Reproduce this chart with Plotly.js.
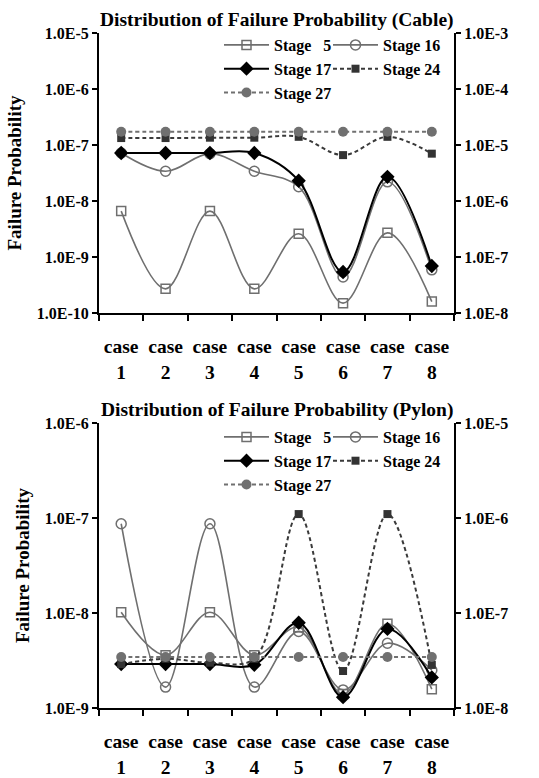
<!DOCTYPE html>
<html><head><meta charset="utf-8">
<script src="https://cdn.plot.ly/plotly-3.0.1.min.js"></script>
<style>html,body{margin:0;padding:0;background:#fff}</style>
</head><body><div id="chart" style="width:539px;height:778px"></div>
<script>
// ---- data ----
const categories = ['case 1','case 2','case 3','case 4','case 5','case 6','case 7','case 8'];
const caseLabels = ['case<br>1','case<br>2','case<br>3','case<br>4','case<br>5','case<br>6','case<br>7','case<br>8'];
const stageNames = ['Stage \u00a0\u00a05','Stage 16','Stage 17','Stage 24','Stage 27'];

const cableStage5  = [6.6e-9, 2.7e-10, 6.6e-9, 2.7e-10, 2.6e-9, 1.5e-10, 2.7e-9, 1.6e-10];
const cableStage16 = [7.2e-8, 3.4e-8, 7.0e-8, 3.4e-8, 1.8e-8, 4.4e-10, 2.2e-8, 5.9e-10];
const cableStage17 = [7.2e-8, 7.2e-8, 7.2e-8, 7.2e-8, 2.3e-8, 5.4e-10, 2.7e-8, 6.9e-10];
const cableStage24 = [1.33e-7, 1.33e-7, 1.35e-7, 1.35e-7, 1.4e-7, 6.6e-8, 1.4e-7, 7.0e-8];
const cableStage27 = [1.72e-7, 1.72e-7, 1.72e-7, 1.72e-7, 1.72e-7, 1.72e-7, 1.72e-7, 1.72e-7];

const pylonStage5  = [1.02e-8, 3.6e-9, 1.02e-8, 3.6e-9, 7.1e-9, 1.4e-9, 7.7e-9, 1.58e-9];
const pylonStage16 = [8.7e-8, 1.66e-9, 8.7e-8, 1.66e-9, 6.4e-9, 1.55e-9, 4.8e-9, 2.5e-9];
const pylonStage17 = [2.9e-9, 2.9e-9, 2.9e-9, 2.85e-9, 7.9e-9, 1.3e-9, 6.8e-9, 2.1e-9];
const pylonStage24 = [2.9e-9, 3.3e-9, 3.0e-9, 3.3e-9, 1.1e-7, 2.45e-9, 1.1e-7, 2.84e-9];
const pylonStage27 = [3.44e-9, 3.44e-9, 3.44e-9, 3.44e-9, 3.44e-9, 3.44e-9, 3.44e-9, 3.44e-9];

const cableLeftTicks  = [1e-10, 1e-9, 1e-8, 1e-7, 1e-6, 1e-5];
const cableLeftText   = ['1.0E-10','1.0E-9','1.0E-8','1.0E-7','1.0E-6','1.0E-5'];
const cableRightTicks = [1e-8, 1e-7, 1e-6, 1e-5, 1e-4, 1e-3];
const cableRightText  = ['1.0E-8','1.0E-7','1.0E-6','1.0E-5','1.0E-4','1.0E-3'];
const pylonLeftTicks  = [1e-9, 1e-8, 1e-7, 1e-6];
const pylonLeftText   = ['1.0E-9','1.0E-8','1.0E-7','1.0E-6'];
const pylonRightTicks = [1e-8, 1e-7, 1e-6, 1e-5];
const pylonRightText  = ['1.0E-8','1.0E-7','1.0E-6','1.0E-5'];

const chartTitles = ['Distribution of Failure Probability (Cable)','Distribution of Failure Probability (Pylon)'];
const yTitle = 'Failure Probability';

// ---- styles ----
const FONT = 'Liberation Serif, Times New Roman, serif';
const styles = [
  {line:{color:'#6f6f6f', width:1.6, shape:'spline', smoothing:1}, marker:{symbol:'square-open', size:9, color:'#6f6f6f', line:{width:1.5}}},
  {line:{color:'#6f6f6f', width:1.6, shape:'spline', smoothing:1}, marker:{symbol:'circle-open', size:10, color:'#6f6f6f', line:{width:1.5}}},
  {line:{color:'#000000', width:2, shape:'spline', smoothing:1}, marker:{symbol:'diamond', size:11, color:'#000000'}},
  {line:{color:'#3a3a3a', width:2, dash:'4px,3px', shape:'spline', smoothing:1}, marker:{symbol:'square', size:8, color:'#333333'}},
  {line:{color:'#707070', width:2, dash:'4px,3px', shape:'spline', smoothing:1}, marker:{symbol:'circle', size:10, color:'#707070'}}
];
const legendCols = [[ 'legend','legend2','legend','legend2','legend'], ['legend3','legend4','legend3','legend4','legend3']];

const cableSeries = [cableStage5, cableStage16, cableStage17, cableStage24, cableStage27];
const pylonSeries = [pylonStage5, pylonStage16, pylonStage17, pylonStage24, pylonStage27];

const traces = [];
[cableSeries, pylonSeries].forEach((series, p) => {
  series.forEach((vals, i) => {
    traces.push(Object.assign({
      type:'scatter', mode:'lines+markers', name: stageNames[i],
      x: categories, y: vals,
      xaxis: p === 0 ? 'x' : 'x2', yaxis: p === 0 ? 'y' : 'y3',
      legend: legendCols[p][i], cliponaxis:false
    }, JSON.parse(JSON.stringify(styles[i]))));
  });
});
// empty carriers so the secondary (right) axes get drawn
['y2','y4'].forEach((ya, k) => {
  traces.push({type:'scatter', mode:'lines', x: categories, y: categories.map(() => null),
    xaxis: k === 0 ? 'x' : 'x2', yaxis: ya, showlegend:false, hoverinfo:'skip'});
});

// geometry
const H = 778, T = 33, B = 70;
const PH = H - T - B;
const frac = px => (H - B - px) / PH;

const tickFont = {family: FONT, size: 16, color:'#000', weight:'bold'};
function xAxis(anchor) {
  return {
    type:'category', categoryarray: categories, range:[-0.5, 7.5], anchor: anchor,
    tickvals: categories, ticktext: caseLabels, tickson:'boundaries', tickangle:0,
    ticks:'outside', ticklen:6, tickwidth:2, tickcolor:'#000',
    showline:true, linewidth:2, linecolor:'#000', showgrid:false, zeroline:false,
    tickfont:{family: FONT, size: 19.5, color:'#000', weight:'bold'},
    ticklabelstandoff: 15, fixedrange:true
  };
}
function yAxis(domain, range, tv, tt, side, overlay, withTitle) {
  const a = {
    type:'log', range: range, domain: domain, tickvals: tv, ticktext: tt,
    ticks:'outside', ticklen:5, tickwidth:2, tickcolor:'#000',
    showline:true, linewidth:2, linecolor:'#000', showgrid:false, zeroline:false,
    tickfont: tickFont, side: side, fixedrange:true
  };
  if (overlay) { a.overlaying = overlay; a.anchor = overlay === 'y' ? 'x' : 'x2'; }
  if (withTitle) a.title = {text: yTitle, font:{family: FONT, size: 19, color:'#000', weight:'bold'}, standoff: 10};
  return a;
}

const topDomain = [frac(313), 1];
const botDomain = [0, frac(423)];

const legendBase = {orientation:'v', bgcolor:'rgba(0,0,0,0)', borderwidth:0, itemwidth:45,
  font:{family: FONT, size:16, color:'#000', weight:'bold'}, xanchor:'left', yanchor:'top', tracegroupgap:0, itemclick:false};

const layout = {
  width:539, height:778, paper_bgcolor:'#fff', plot_bgcolor:'#fff',
  margin:{l:99, r:85, t:T, b:B},
  font:{family: FONT, color:'#000'},
  showlegend:true,
  xaxis: xAxis('y'),
  xaxis2: xAxis('y3'),
  yaxis: yAxis(topDomain, [-10, -5], cableLeftTicks, cableLeftText, 'left', null, true),
  yaxis2: yAxis(topDomain, [-8, -3], cableRightTicks, cableRightText, 'right', 'y', false),
  yaxis3: yAxis(botDomain, [-9, -6], pylonLeftTicks, pylonLeftText, 'left', null, true),
  yaxis4: yAxis(botDomain, [-8, -5], pylonRightTicks, pylonRightText, 'right', 'y3', false),
  legend:  Object.assign({}, legendBase, {x:(219-99)/355, y:frac(28)}),
  legend2: Object.assign({}, legendBase, {x:(328-99)/355, y:frac(28)}),
  legend3: Object.assign({}, legendBase, {x:(219-99)/355, y:frac(420)}),
  legend4: Object.assign({}, legendBase, {x:(328-99)/355, y:frac(420)}),
  annotations: [
    {text: chartTitles[0], xref:'paper', yref:'paper', x:0.5, y:frac(20), xanchor:'center', yanchor:'middle', showarrow:false,
     font:{family: FONT, size:19.5, color:'#000', weight:'bold'}},
    {text: chartTitles[1], xref:'paper', yref:'paper', x:0.5, y:frac(410), xanchor:'center', yanchor:'middle', showarrow:false,
     font:{family: FONT, size:19.5, color:'#000', weight:'bold'}}
  ]
};

Plotly.newPlot('chart', traces, layout, {displayModeBar:false, staticPlot:true});
</script>
</body></html>
